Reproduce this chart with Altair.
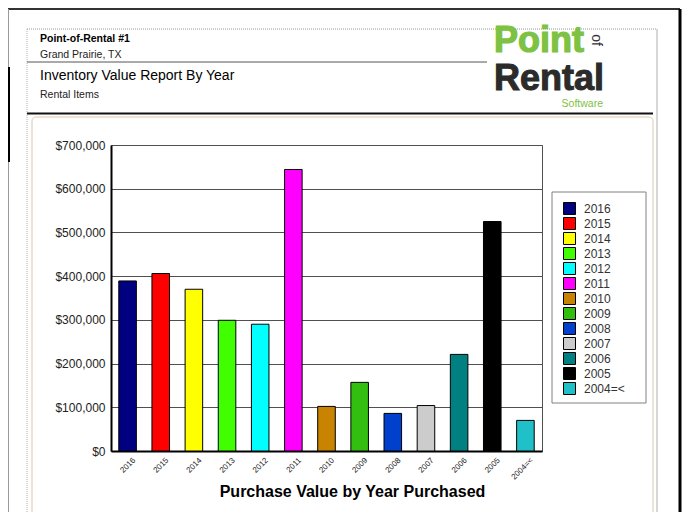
import altair as alt
import pandas as pd

# ---------------- data ----------------
years = ["2016", "2015", "2014", "2013", "2012", "2011", "2010",
         "2009", "2008", "2007", "2006", "2005", "2004=<"]
values = [389000, 406000, 370000, 299000, 290000, 644000, 102000,
          157000, 86000, 104000, 221000, 525000, 70000]
colors = ["#000080", "#FF0000", "#FFFF00", "#40FF00", "#00FFFF", "#FF00FF",
          "#C88400", "#33BF10", "#0040CC", "#CCCCCC", "#008080", "#000000",
          "#20C0C8"]
y_ticks = [0, 100000, 200000, 300000, 400000, 500000, 600000, 700000]

FONT = "Liberation Sans, Arial, sans-serif"

W, H = 431, 306          # plot area
OX, OY = 111, 145        # page position of plot origin
PAD = {"left": OX - 8, "top": OY - 8, "right": 140, "bottom": 61}
BOTTOM = 512


def px(x):
    return x - OX


def py(y):
    return y - OY


one = pd.DataFrame({"k": [0]})


def rule(x1, y1, x2, y2, color, width, dash=None):
    kw = dict(color=color, strokeWidth=width)
    if dash:
        kw["strokeDash"] = dash
    return alt.Chart(one).mark_rule(**kw).encode(
        x=alt.value(px(x1)), x2=alt.value(px(x2)),
        y=alt.value(py(y1)), y2=alt.value(py(y2)))


def text(s, x, y, size, weight="normal", color="#000000", align="left",
         baseline="alphabetic", angle=0, heavy=0):
    kw = dict(text=s, fontSize=size, fontWeight=weight, color=color,
              align=align, baseline=baseline, font=FONT)
    if angle:
        kw["angle"] = angle
    if heavy:
        kw["stroke"] = color
        kw["strokeWidth"] = heavy
    return alt.Chart(one).mark_text(**kw).encode(
        x=alt.value(px(x)), y=alt.value(py(y)))


def box(x1, y1, x2, y2, color, width, radius=0):
    kw = dict(filled=False, stroke=color, strokeWidth=width)
    if radius:
        kw["cornerRadius"] = radius
    return alt.Chart(one).mark_rect(**kw).encode(
        x=alt.value(px(x1)), x2=alt.value(px(x2)),
        y=alt.value(py(y1)), y2=alt.value(py(y2)))


# ---------------- decorations ----------------
deco = [
    # outer frame
    rule(8, 9, 680, 9, "#333333", 2),
    rule(8.5, 9, 8.5, BOTTOM, "#9a9a9a", 1),
    rule(8.5, 67, 8.5, 162, "#000000", 3),
    rule(680, 9, 680, BOTTOM, "#000000", 3),
    # header dotted box
    rule(27, 29, 657, 29, "#9a9a9a", 1, [1, 1]),
    rule(27, 29, 27, BOTTOM, "#b0b0b0", 1, [1, 1]),
    rule(657, 29, 657, BOTTOM, "#b0b0b0", 1),
    rule(27, 62, 487, 62, "#555555", 1),
    rule(27, 113.5, 653, 113.5, "#111111", 2),
    # chart frame
    box(32, 117, 653, BOTTOM + 6, "#dcc8aa", 1, 4),
    # header texts
    text("Point-of-Rental #1", 40, 42, 10.5, "bold"),
    text("Grand Prairie, TX", 40, 58, 10.5, color="#222222"),
    text("Inventory Value Report By Year", 40, 80, 14),
    text("Rental Items", 40, 98, 10.5, color="#222222"),
    # logo
    text("Point", 494, 52, 36, "bold", "#7DC242", heavy=1.2),
    text("of", 596, 40, 14, color="#333333", align="center",
         baseline="middle", angle=90),
    text("Rental", 494, 90, 36, "bold", "#2B2B2B", heavy=1),
    text("Software", 603, 107, 10.5, color="#7DC242", align="right"),
    # legend box
    box(552, 192, 646, 403, "#808080", 1),
]

# ---------------- bars ----------------
df = pd.DataFrame({"year": years, "value": values})

bars = alt.Chart(df).mark_bar(stroke="#000000", strokeWidth=1).encode(
    x=alt.X("year:N", sort=years,
            scale=alt.Scale(domain=years, paddingInner=0.47, paddingOuter=0.235),
            axis=alt.Axis(title="Purchase Value by Year Purchased",
                          labelAngle=-45, labelAlign="right",
                          labelBaseline="top", labelFontSize=8,
                          labelOffset=4, labelPadding=5, ticks=False,
                          domainColor="#000000", domainWidth=2,
                          labelColor="#222222", labelFont=FONT,
                          titleFontSize=16, titleFontWeight="bold",
                          titleFont=FONT, titleColor="#000000",
                          titleX=241, titleY=45, titleAlign="center",
                          titleBaseline="alphabetic")),
    y=alt.Y("value:Q",
            scale=alt.Scale(domain=[0, 700000], nice=False),
            axis=alt.Axis(title=None, values=y_ticks, format="$,.0f",
                          ticks=False, labelPadding=6, labelFontSize=12,
                          labelFont=FONT, labelColor="#222222",
                          domainColor="#000000", domainWidth=2,
                          grid=True, gridColor="#505050", gridWidth=1)),
    color=alt.Color("year:N", sort=years,
                    scale=alt.Scale(domain=years, range=colors),
                    legend=alt.Legend(title=None, orient="none",
                                      legendX=452, legendY=57,
                                      padding=0, symbolType="square",
                                      symbolSize=144,
                                      symbolStrokeColor="#000000",
                                      symbolStrokeWidth=1,
                                      labelFontSize=12, labelFont=FONT,
                                      labelColor="#333333", rowPadding=-2,
                                      labelOffset=8)),
)

chart = alt.layer(*deco, bars).properties(
    width=W, height=H, padding=PAD,
    autosize=alt.AutoSizeParams(type="none"),
    background="white",
).configure_view(stroke="#505050", strokeWidth=1)

chart.save("out.html", embed_options={"renderer": "svg", "actions": False})
